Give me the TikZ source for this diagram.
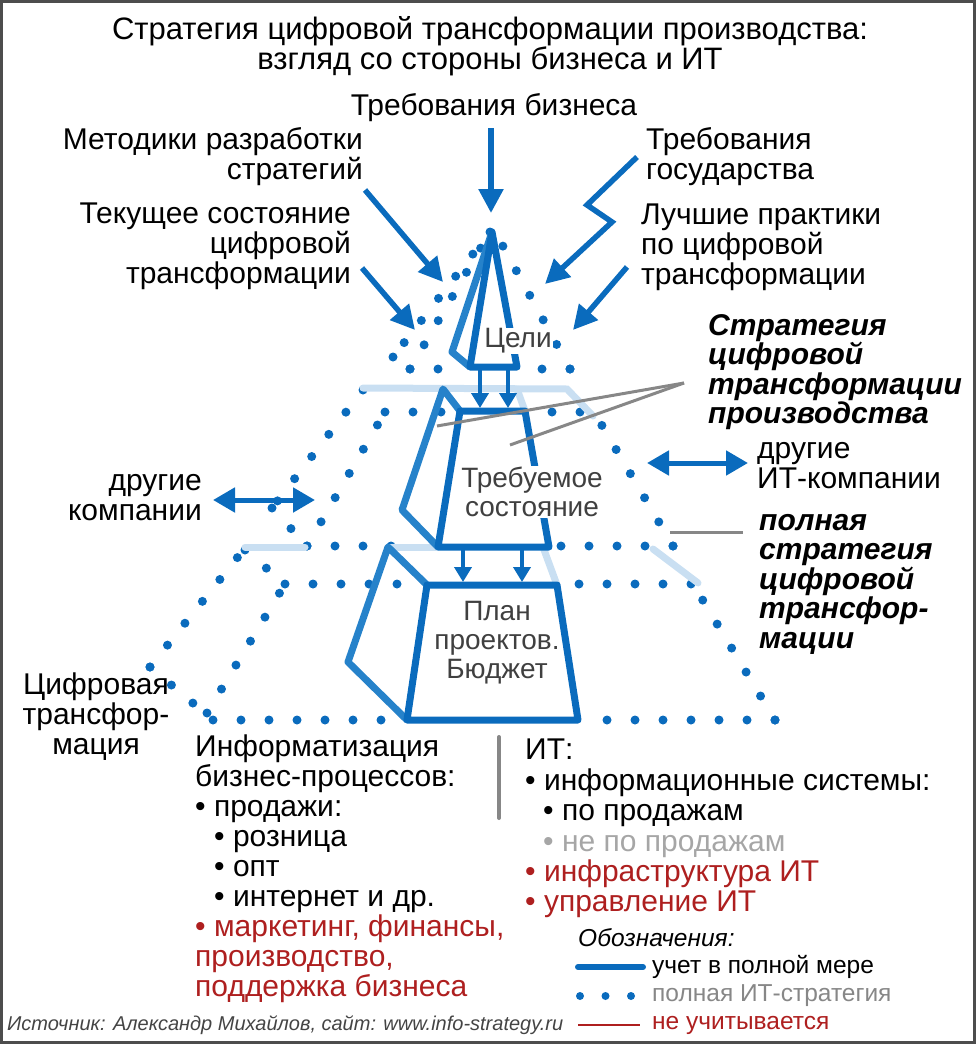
\documentclass[tikz,border=0pt]{standalone}
\usepackage{fontspec}
\setmainfont{Liberation Sans}
\usetikzlibrary{arrows.meta,positioning}

\definecolor{fullblue}{HTML}{0A6BBD}
\definecolor{sideblue}{HTML}{2682CA}
\definecolor{hideblue}{HTML}{C9DFF2}
\definecolor{callgray}{HTML}{878787}
\definecolor{notred}{HTML}{AE1F1F}
\definecolor{tiergray}{HTML}{404040}
\definecolor{framegray}{HTML}{4D4D4D}
\definecolor{mutegray}{HTML}{A6A6A6}
\definecolor{srcgray}{HTML}{444444}

\begin{document}
\begin{tikzpicture}[x=1pt, y=-1pt,
    lab/.style={font=\fontsize{30}{29.9}\selectfont, inner sep=0pt, align=center},
    tier/.style={lab, font=\fontsize{28}{29}\selectfont, text=tiergray, fill=white, inner sep=1pt},
    bold/.style={font=\fontsize{30}{29.5}\selectfont\bfseries\itshape, inner sep=0pt, align=left},
    legtext/.style={font=\fontsize{24.5}{27}\selectfont, inner sep=0pt, anchor=west},
    full/.style={draw=fullblue, line width=7pt, line join=round},
    side/.style={draw=sideblue, line width=7pt, line join=round},
    hidden/.style={draw=hideblue, line width=7pt, line cap=round},
    itdots/.style={draw=fullblue, line width=9pt, line cap=round, dash pattern=on 0pt off 28pt},
    inarrow/.style={-{Triangle[length=24pt,width=24pt]}, draw=fullblue, line width=5.5pt},
    twoarrow/.style={{Triangle[length=22pt,width=24pt]}-{Triangle[length=22pt,width=24pt]}, draw=fullblue, line width=5pt},
    downarrow/.style={-{Triangle[length=15pt,width=17pt]}, draw=fullblue, line width=4.5pt},
    callout/.style={draw=callgray, line width=3pt}
]
\useasboundingbox (0,0) rectangle (976,1044);
\draw[framegray, line width=3pt] (1.5,1.5) rectangle (974.5,1042.5);

% full IT strategy (dots)
\draw[itdots] (490,232) -- (393,357);
\draw[itdots] (393,357) -- (410,369);
\draw[itdots] (410,369) -- (490,232);
\draw[itdots] (570,369) -- (493,228);
\draw[itdots] (410,369) -- (445,369);
\draw[itdots] (570,369) -- (535,369);

\draw[itdots] (363,390) -- (272,508);
\draw[itdots] (272,508) -- (307,546);
\draw[itdots] (307,546) -- (385,412);
\draw[itdots] (385,412) -- (445,412);
\draw[itdots] (580,412) -- (545,412);
\draw[itdots] (673,546) -- (594,412);
\draw[itdots] (307,546) -- (400,546);
\draw[itdots] (673,546) -- (555,546);

\draw[itdots] (150,667) -- (245,548);
\draw[itdots] (150,667) -- (213,720);
\draw[itdots] (245,550) -- (285,584);
\draw[itdots] (285,584) -- (400,584);
\draw[itdots] (691,584) -- (570,584);
\draw[itdots] (207,713) -- (285,584);
\draw[itdots] (213,720) -- (395,720);
\draw[itdots] (775,720) -- (590,720);
\draw[itdots] (775,720) -- (693,584);

% hidden edges
\draw[hidden] (363,388) -- (567,389) -- (593,416);
\draw[hidden] (517,389) -- (525,411);
\draw[hidden] (245,547) -- (305,547);
\draw[hidden] (388,547) -- (437,547);
\draw[hidden] (543,547) -- (557,585);
\draw[hidden] (653,549) -- (698,583);

% solid tiers
\coordinate (c1top) at (492,232);
\coordinate (c1back) at (452,352);
\coordinate (c1fl) at (470,367);
\coordinate (c1fr) at (517,367);
\draw[side] (c1top) -- (c1back) -- (c1fl);
\draw[full] (c1top) -- (c1fl) -- (c1fr) -- cycle;

\coordinate (t2fl) at (460,411);
\coordinate (t2fr) at (525,411);
\coordinate (t2br) at (549,547);
\coordinate (t2bl) at (438,547);
\draw[side] (t2fl) -- (443,389) -- (402,510) -- (t2bl);
\draw[full] (t2fl) -- (t2fr) -- (t2br) -- (t2bl) -- cycle;

\coordinate (p3fl) at (427,585);
\coordinate (p3fr) at (557,585);
\coordinate (p3br) at (578,720);
\coordinate (p3bl) at (407,720);
\draw[side] (p3fl) -- (388,547) -- (348,662) -- (p3bl);
\draw[full] (p3fl) -- (p3fr) -- (p3br) -- (p3bl) -- cycle;

\coordinate (g1a) at (480,367);
\coordinate (g1b) at (508,367);
\coordinate (g2a) at (463,547);
\coordinate (g2b) at (522,547);
\draw[downarrow] (g1a) -- (480,408);
\draw[downarrow] (g1b) -- (508,408);
\draw[downarrow] (g2a) -- (463,582);
\draw[downarrow] (g2b) -- (522,582);

% labels
\node[lab, font=\fontsize{31}{30}\selectfont] (title) at (490,46) {Стратегия цифровой трансформации производства:\\взгляд со стороны бизнеса и ИТ};
\node[lab] (reqbiz) at (494,108) {Требования бизнеса};
\node[lab, anchor=east, align=right] (methods) at (363,157) {Методики разработки\\стратегий};
\node[lab, anchor=east, align=right] (current) at (351,246) {Текущее состояние\\цифровой\\трансформации};
\node[lab, anchor=west, align=left] (reqgov) at (646,157) {Требования\\государства};
\node[lab, anchor=west, align=left] (best) at (641,247) {Лучшие практики\\по цифровой\\трансформации};

\node[tier] (goals) at (518,341) {Цели};
\node[tier] (target) at (532,492) {Требуемое\\состояние};
\node[lab, font=\fontsize{28}{29}\selectfont, text=tiergray] (plan) at (497,643) {План\\проектов.\\Бюджет};

\node[bold, anchor=west] (stratlab) at (708,372) {Стратегия\\цифровой\\трансформации\\производства};
\node[bold, anchor=west] (fulllab) at (759,584) {полная\\стратегия\\цифровой\\трансфор-\\мации};
\node[lab, anchor=west, align=left] (otherit) at (757,466) {другие\\ИТ-компании};
\node[lab, anchor=east, align=right] (othercomp) at (202,498) {другие\\компании};
\node[lab] (digital) at (96,717) {Цифровая\\трансфор-\\мация};

\node[lab, anchor=north west, align=left] (bizlist) at (195,735) {Информатизация\\бизнес-процессов:\\• продажи:\\\hspace*{19pt}• розница\\\hspace*{19pt}• опт\\\hspace*{19pt}• интернет и др.\\\textcolor{notred}{• маркетинг, финансы,}\\\textcolor{notred}{производство,}\\\textcolor{notred}{поддержка бизнеса}};
\node[lab, anchor=north west, align=left, font=\fontsize{30}{30.4}\selectfont] (itlist) at (525,739) {ИТ:\\• информационные системы:\\\hspace*{18pt}• по продажам\\\hspace*{18pt}\textcolor{mutegray}{• не по продажам}\\\textcolor{notred}{• инфраструктура ИТ}\\\textcolor{notred}{• управление ИТ}};

\node[legtext, font=\fontsize{24.5}{27}\selectfont\itshape] (leghead) at (578,938) {Обозначения:};
\node[legtext] (legfull) at (652,967) {учет в полной мере};
\node[legtext, text=callgray] (legdots) at (652,996) {полная ИТ-стратегия};
\node[legtext, text=notred] (legnot) at (652,1025) {не учитывается};
\node[anchor=west, inner sep=0pt, text=srcgray, font=\fontsize{20}{22}\selectfont\itshape] (source) at (7,1025) {Источник: Александр Михайлов, сайт: www.info-strategy.ru};

\draw[fullblue, line width=6pt, line cap=round] ([xshift=-74pt]legfull.west) -- ([xshift=-9pt]legfull.west);
\draw[itdots, line width=8pt, dash pattern=on 0pt off 25.5pt] ([xshift=-72pt]legdots.west) -- ([xshift=-20pt]legdots.west);
\draw[notred, line width=2pt] ([xshift=-74pt]legnot.west) -- ([xshift=-12pt]legnot.west);

% incoming arrows
\coordinate (reqbiz-s) at (491,128);
\coordinate (reqbiz-e) at (491,213);
\coordinate (methods-s) at (365,190);
\coordinate (methods-e) at (443,282);
\coordinate (current-s) at (362,268);
\coordinate (current-e) at (415,330);
\coordinate (reqgov-s) at (637,157);
\coordinate (reqgov-e) at (545,284);
\coordinate (best-s) at (627,267);
\coordinate (best-e) at (573,330);
\draw[inarrow] (reqbiz-s) -- (reqbiz-e);
\draw[inarrow] (methods-s) -- (methods-e);
\draw[inarrow] (current-s) -- (current-e);
\draw[inarrow, line join=miter] (reqgov-s) -- (587,205) -- (612,222) -- (reqgov-e);
\draw[inarrow] (best-s) -- (best-e);

\coordinate (othercomp-a) at (213,500);
\coordinate (othercomp-b) at (315,500);
\coordinate (otherit-a) at (647,463);
\coordinate (otherit-b) at (748,463);
\draw[twoarrow] (othercomp-a) -- (othercomp-b);
\draw[twoarrow] (otherit-a) -- (otherit-b);

% callouts
\coordinate (strat-c) at (684,383);
\draw[callout] (strat-c) -- (437,426);
\draw[callout] (strat-c) -- (510,445);
\draw[callout] (670,532) -- (743,532);
\draw[callout, line width=4pt, line cap=round] (499,737) -- (499,818);

\end{tikzpicture}
\end{document}
